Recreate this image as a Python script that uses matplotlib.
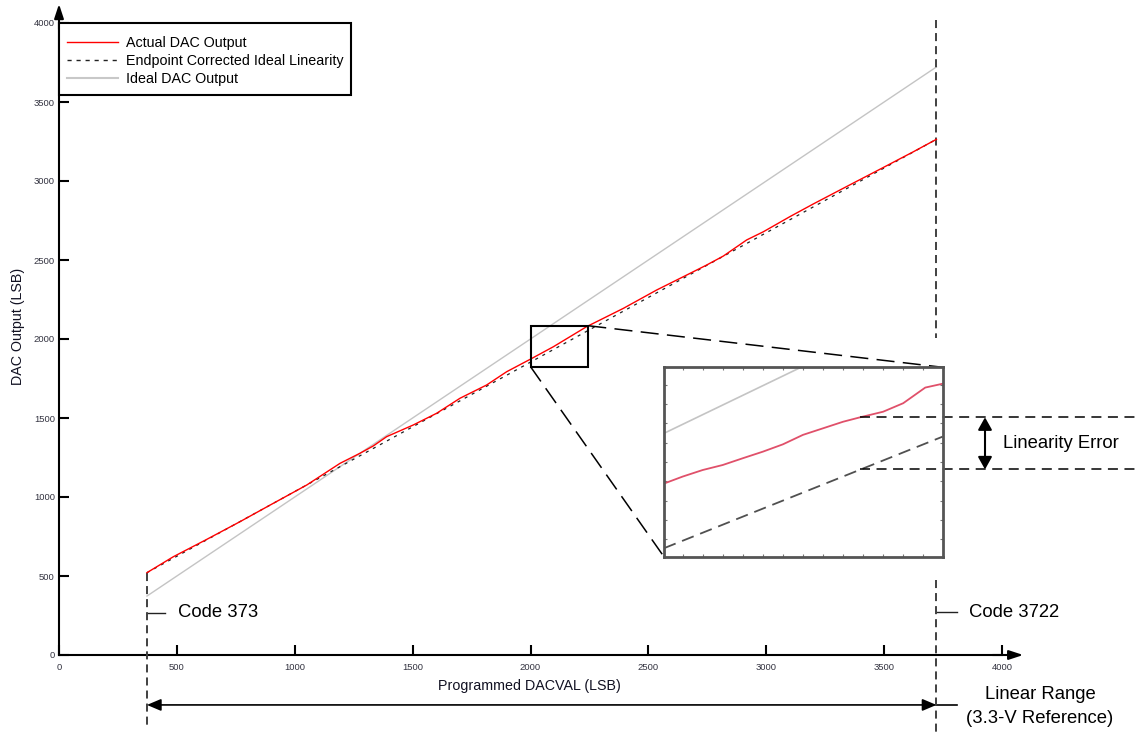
import matplotlib
matplotlib.use('Agg')
import matplotlib.pyplot as plt
from matplotlib.lines import Line2D
from matplotlib.patches import Rectangle

plt.rcParams['font.family'] = ['Liberation Sans', 'DejaVu Sans']
plt.rcParams['lines.scale_dashes'] = False

# ---------------- data ----------------
code_x = [373, 485, 627, 768, 909, 1051, 1192, 1277, 1333, 1390, 1503, 1602, 1701,
          1814, 1899, 1998, 2097, 2238, 2394, 2535, 2648, 2747, 2818, 2917, 2988,
          3101, 3200, 3341, 3483, 3624, 3722]
actual_y = [521, 622, 732, 844, 960, 1076, 1213, 1277, 1323, 1382, 1456, 1530, 1625,
            1709, 1793, 1871, 1951, 2078, 2194, 2310, 2394, 2468, 2525, 2627, 2679,
            2775, 2855, 2965, 3075, 3185, 3264]
endpoint_x = [373, 3722]
endpoint_y = [521, 3264]
ideal_x = [373, 3722]
ideal_y = [373, 3722]

x_ticks = [0, 500, 1000, 1500, 2000, 2500, 3000, 3500, 4000]
y_ticks = [0, 500, 1000, 1500, 2000, 2500, 3000, 3500, 4000]
legend_labels = ['Actual DAC Output', 'Endpoint Corrected Ideal Linearity', 'Ideal DAC Output']

code_low = 373
code_high = 3722
zoom_x = [2000, 2245]
zoom_y = [1825, 2084]

# magnified view (inset units)
inset_x = [0.1, 1, 2, 3, 4, 5, 6, 7, 8, 9, 9.85, 11, 12, 13.1, 13.97]
inset_actual = [3.90, 4.25, 4.59, 4.85, 5.20, 5.54, 5.92, 6.41, 6.75, 7.09, 7.32, 7.61, 8.05, 8.86, 9.06]
inset_ideal_x = [0.07, 6.9]
inset_ideal_y = [6.49, 9.91]
inset_end_x = [0.07, 13.97]
inset_end_y = [0.54, 6.32]
lin_err_x = 9.85
lin_err_top = 7.32
lin_err_bot = 4.62

# ---------------- figure ----------------
fig = plt.figure(figsize=(11.35, 7.32), dpi=100)
ax = fig.add_axes([59 / 1135, 77 / 732, 943 / 1135, 632 / 732])
ax.set_xlim(0, 4000)
ax.set_ylim(0, 4000)

ax.plot(ideal_x, ideal_y, color='#c4c4c4', lw=1.0, zorder=2)
ax.plot(endpoint_x, endpoint_y, color='#222222', lw=0.9, dashes=(2.2, 3.6), zorder=3)
ax.plot(code_x, actual_y, color='#ff0000', lw=1.0, zorder=4)

for s in ['top', 'right']:
    ax.spines[s].set_visible(False)
for s in ['left', 'bottom']:
    ax.spines[s].set_linewidth(1.5)
    ax.spines[s].set_color('black')

ax.set_xticks(x_ticks)
ax.set_yticks(y_ticks)
ax.tick_params(direction='in', length=7, width=1.5, labelsize=6.8, labelcolor='#333340')
ax.tick_params(axis='x', pad=5.5)
ax.tick_params(axis='y', pad=3)

# axis arrows
arrow_kw = dict(arrowstyle='-|>,head_length=0.85,head_width=0.28', color='black', lw=1.5,
                shrinkA=0, shrinkB=0, mutation_scale=10)
ax.annotate('', xy=(0, 1.03), xytext=(0, 0.99), xycoords='axes fraction',
            textcoords='axes fraction', arrowprops=arrow_kw, annotation_clip=False)
ax.annotate('', xy=(1.0225, 0), xytext=(0.99, 0), xycoords='axes fraction',
            textcoords='axes fraction', arrowprops=arrow_kw, annotation_clip=False)

# axis labels
ax.text(0.499, -0.049, 'Programmed DACVAL (LSB)', transform=ax.transAxes, ha='center',
        va='center', fontsize=10.3, color='#111122')
ax.text(-0.0435, 0.52, 'DAC Output (LSB)', transform=ax.transAxes, ha='center',
        va='center', rotation=90, fontsize=10.3, color='#111122')

# legend (frame drawn separately)
ax.add_patch(Rectangle((0, 0.886), 0.3097, 0.114, transform=ax.transAxes, facecolor='white',
                       edgecolor='black', lw=1.5, zorder=19, clip_on=False))
handles = [Line2D([], [], color='#ff0000', lw=1.0),
           Line2D([], [], color='#222222', lw=1.0, dashes=(3, 3.5)),
           Line2D([], [], color='#c8c8c8', lw=1.5)]
leg = ax.legend(handles, legend_labels, loc='upper left', bbox_to_anchor=(0, 0.9915),
                bbox_transform=ax.transAxes, borderaxespad=0, frameon=False,
                fontsize=10.3, handlelength=3.55, handletextpad=0.58,
                borderpad=0.55, labelspacing=0.27)
leg.set_zorder(20)

# vertical dashed boundaries
vkw = dict(color='#404040', lw=1.4, dashes=(5.8, 3.6), clip_on=False, zorder=3)
ax.plot([code_low, code_low], [521, -443], **vkw)
ax.plot([code_high, code_high], [4019, 2006], **vkw)
ax.plot([code_high, code_high], [475, -487], **vkw)

# code labels
ax.plot([code_low, 450], [266, 266], color='#222222', lw=1.0, clip_on=False)
ax.text(505, 266, 'Code 373', fontsize=13.3, va='center', ha='left')
ax.plot([code_high, 3809], [272, 272], color='#222222', lw=1.0, clip_on=False)
ax.text(3860, 272, 'Code 3722', fontsize=13.3, va='center', ha='left', clip_on=False)

# linear range arrow
ax.annotate('', xy=(code_low, -316), xytext=(code_high, -316), xycoords='data',
            arrowprops=dict(arrowstyle='<|-|>,head_length=0.85,head_width=0.36', color='black',
                            lw=1.2, shrinkA=0, shrinkB=0, mutation_scale=10),
            annotation_clip=False)
ax.plot([code_high, 3809], [-316, -316], color='black', lw=1.2, clip_on=False)
ax.text(4161, -253, 'Linear Range', fontsize=13.3, ha='center', va='center', clip_on=False)
ax.text(4161, -399, '(3.3-V Reference)', fontsize=13.3, ha='center', va='center', clip_on=False)

# zoom rectangle and connectors
ax.add_patch(Rectangle((zoom_x[0], zoom_y[0]), zoom_x[1] - zoom_x[0], zoom_y[1] - zoom_y[0],
                       fill=False, ec='black', lw=1.5, zorder=6))
ckw = dict(color='black', lw=1.1, dashes=(13, 6), clip_on=False, zorder=5)
ax.plot([zoom_x[1], 3748], [zoom_y[1], 1821], **ckw)
ax.plot([zoom_x[0], 2566], [zoom_y[0], 622], **ckw)

# ---------------- inset ----------------
axin = fig.add_axes([664 / 1135, (732 - 556.7) / 732, 278.7 / 1135, 189.4 / 732])
axin.set_zorder(10)
axin.set_facecolor('white')
axin.set_xlim(0.07, 13.97)
axin.set_ylim(0.1, 9.91)
axin.plot(inset_ideal_x, inset_ideal_y, color='#c4c4c4', lw=1.2)
axin.plot(inset_x, inset_actual, color='#e0506a', lw=1.3)
axin.plot(inset_end_x, inset_end_y, color='#505050', lw=1.3, dashes=(9, 5))
axin.set_xticks(range(1, 14))
axin.set_yticks(range(1, 10))
axin.tick_params(direction='in', length=2.5, width=0.8, colors='#777777',
                 top=True, right=True, labelbottom=False, labelleft=False)
for s in axin.spines.values():
    s.set_linewidth(2.0)
    s.set_color('#555555')

lkw = dict(color='black', lw=1.1, dashes=(7.2, 4.7), clip_on=False)
axin.plot([lin_err_x, 23.6], [lin_err_top, lin_err_top], **lkw)
axin.plot([lin_err_x, 23.6], [lin_err_bot, lin_err_bot], **lkw)
axin.annotate('', xy=(16.08, lin_err_top), xytext=(16.08, lin_err_bot),
              arrowprops=dict(arrowstyle='<|-|>,head_length=0.75,head_width=0.42', color='black',
                              lw=1.5, shrinkA=0, shrinkB=0, mutation_scale=10),
              annotation_clip=False)
axin.text(16.98, (lin_err_top + lin_err_bot) / 2, 'Linearity Error', fontsize=13.3,
          va='center', ha='left', clip_on=False)

fig.savefig('out.png', dpi=100)
